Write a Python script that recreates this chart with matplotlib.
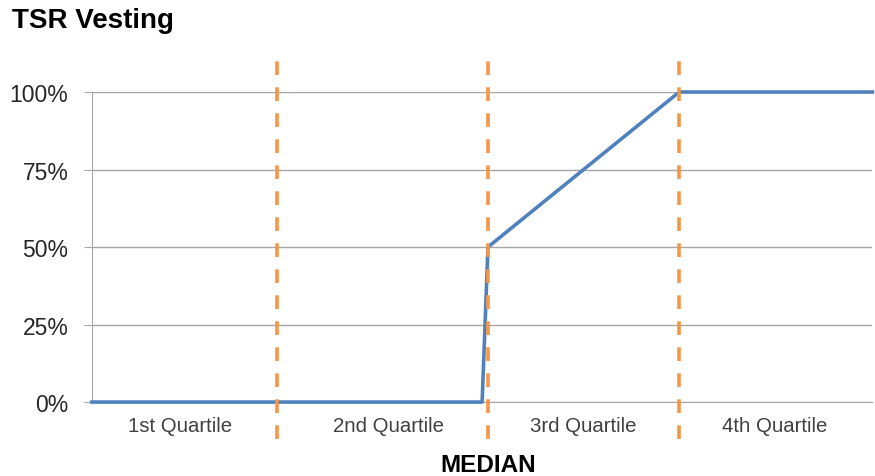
import matplotlib.pyplot as plt
from matplotlib.ticker import PercentFormatter

plt.rcParams['font.family'] = ['Liberation Sans', 'DejaVu Sans']

# vesting curve (x in quartile units, y as fraction vested)
curve_x = [0.0, 2.0, 2.03, 3.01, 4.0]
curve_y = [0.0, 0.0, 0.50, 1.00, 1.00]

quartile_labels = ['1st Quartile', '2nd Quartile', '3rd Quartile', '4th Quartile']
label_pos = [0.45, 1.52, 2.52, 3.5]
divider_x = [0.95, 2.03, 3.01]
y_ticks = [0, 0.25, 0.5, 0.75, 1.0]

fig = plt.figure(figsize=(8.75, 4.77), dpi=100)
ax = fig.add_axes([0.105, 0.155, 0.892, 0.65])

ax.plot(curve_x, curve_y, color='#4F81BD', linewidth=2.6, zorder=3, clip_on=False)

for x in divider_x:
    ax.axvline(x, ymin=-0.12, ymax=1.125, color='#F79646', linewidth=2.6,
               dashes=(3.8, 3.4), clip_on=False, zorder=4)

ax.set_xlim(0, 4)
ax.set_ylim(0, 1)
ax.set_yticks(y_ticks)
ax.yaxis.set_major_formatter(PercentFormatter(1.0, decimals=0))
ax.grid(axis='y', color='#A6A6A6', linewidth=1)
ax.set_axisbelow(True)
ax.set_xticks([])

for s in ['top', 'right']:
    ax.spines[s].set_visible(False)
ax.spines['left'].set_color('#A6A6A6')
ax.spines['bottom'].set_color('#A6A6A6')
ax.tick_params(axis='y', length=6, color='#A6A6A6', labelsize=16.5, pad=11,
               labelcolor='#262626')

for pos, lab in zip(label_pos, quartile_labels):
    ax.text(pos, -0.075, lab, ha='center', va='center', fontsize=14.7, color='#404040')

ax.text(2.03, -0.2, 'MEDIAN', ha='center', va='center', fontsize=17.5,
        fontweight='bold', color='black')

fig.text(0.014, 0.955, 'TSR Vesting', ha='left', va='center', fontsize=20,
         fontweight='bold')

fig.savefig('out.png', dpi=100)
